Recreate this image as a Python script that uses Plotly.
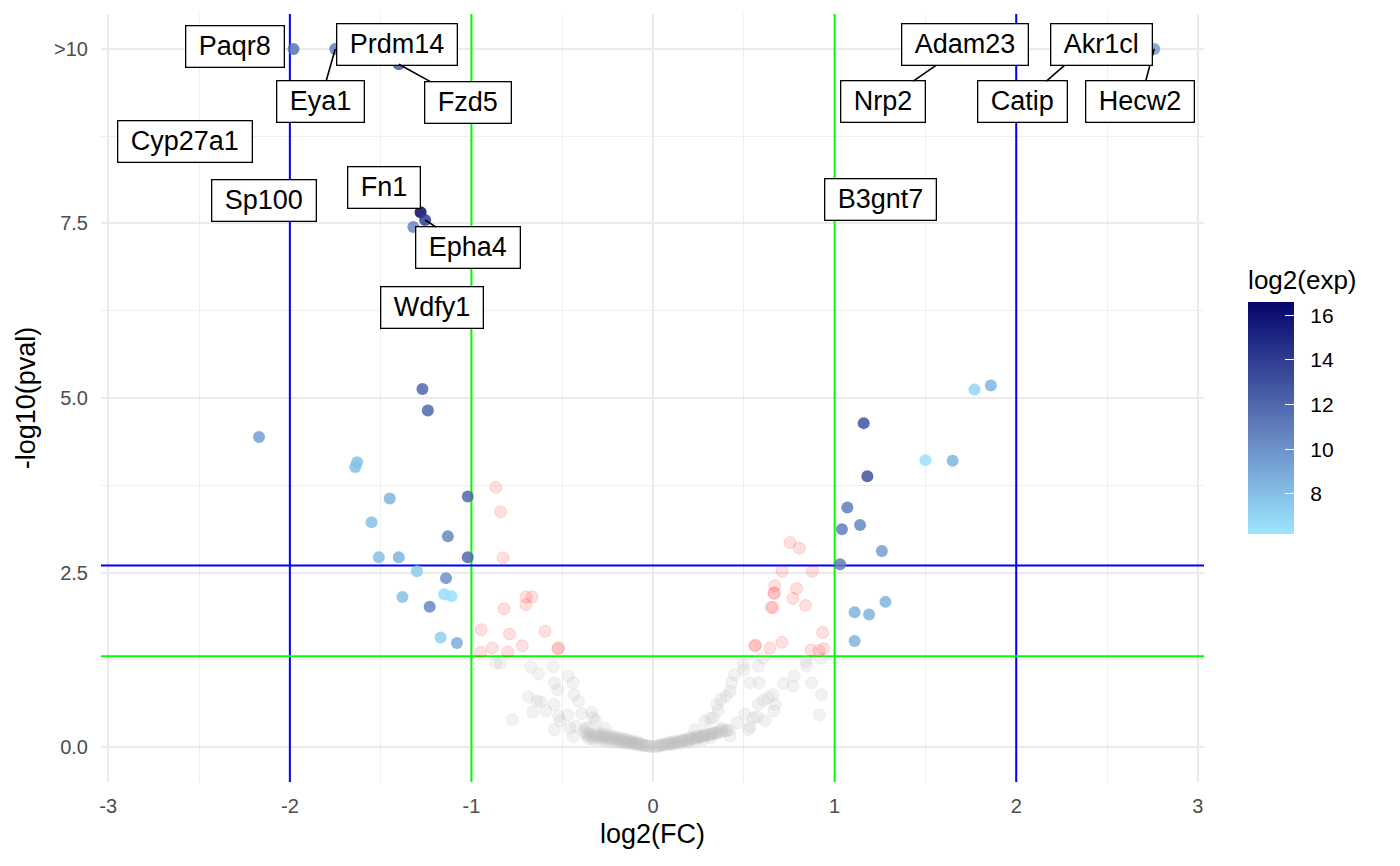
import plotly.graph_objects as go

# ---------------- data ----------------
# significant genes (|log2FC| > 1 and p < 0.05), coloured by log2(exp)
sig_names = ["Paqr8", "Eya1", "Prdm14", "Fzd5", "Cyp27a1", "Sp100", "Fn1", "Epha4", "Wdfy1", "",
             "Adam23", "Nrp2", "Akr1cl", "Catip", "Hecw2", "B3gnt7",
             "", "", "", "", "", "", "", "", "", "", "", "", "", "", "", "", "", "", "", "",
             "", "", "", "", "", "", "", "", "", "", "", "", "", "", ""]
sig_fc = [-1.98, -1.75, -1.41, -1.40, -2.76, -2.14, -1.28, -1.255, -1.22, -1.32,
          1.72, 1.69, 2.47, 2.37, 2.76, 1.25,
          -1.27, -1.24, -2.17, -1.63, -1.64, -1.45, -1.02, -1.55, -1.13, -1.51, -1.40, -1.02,
          -1.30, -1.14, -1.38, -1.15, -1.11, -1.23, -1.17, -1.08,
          1.86, 1.77, 1.16, 1.50, 1.65, 1.18, 1.07, 1.04, 1.14, 1.26, 1.03, 1.28, 1.11, 1.19, 1.11]
sig_p = [10, 10, 10, 9.78, 8.67, 7.83, 7.66, 7.55, 6.30, 7.45,
         10, 10, 10, 10, 10, 7.85,
         5.13, 4.82, 4.44, 4.08, 4.01, 3.56, 3.59, 3.22, 3.02, 2.72, 2.72, 2.72,
         2.52, 2.42, 2.15, 2.19, 2.16, 2.01, 1.57, 1.49,
         5.18, 5.12, 4.64, 4.11, 4.10, 3.88, 3.43, 3.12, 3.18, 2.81, 2.62, 2.08, 1.93, 1.90, 1.52]
sig_exp = [11.5, 11.0, 10.5, 12.5, 9.0, 9.0, 16.5, 14.0, 9.0, 10.5,
           9.0, 9.5, 9.0, 9.0, 9.5, 9.0,
           12.0, 12.0, 9.5, 8.0, 8.0, 8.5, 12.0, 8.0, 10.5, 8.0, 8.5, 12.0,
           7.5, 10.0, 8.0, 6.6, 6.5, 10.5, 7.2, 8.8,
           8.5, 7.0, 13.0, 6.5, 8.5, 13.0, 11.0, 11.0, 10.5, 9.5, 11.0, 8.5, 8.5, 8.5, 8.5]

# p < 0.05 but |log2FC| < 1
red_fc = [-0.866, -0.84, -0.826, -0.70, -0.666, -0.70, -0.82, -0.947, -0.79, -0.595, -0.885,
          -0.80, -0.72, -0.95, -0.525, -0.52,
          0.67, 0.79, 0.665, 0.668, 0.77, 0.84, 0.65, 0.66, 0.934, 0.56, 0.565, 0.644, 0.71,
          0.87, 0.915, 0.94, 0.754, 0.806, 0.71, 0.877]
red_p = [3.72, 3.37, 2.71, 2.15, 2.15, 2.04, 1.98, 1.68, 1.62, 1.66, 1.42,
         1.36, 1.45, 1.36, 1.41, 1.42,
         2.31, 2.27, 2.20, 2.21, 2.13, 2.03, 2.00, 2.00, 1.64, 1.45, 1.46, 1.42, 1.50,
         1.39, 1.38, 1.41, 2.93, 2.85, 2.52, 2.52]

# not significant
grey_fc = [-0.865, -0.84, -0.673, -0.63, -0.55, -0.466, -0.543, -0.44, -0.525, -0.435, -0.686,
           -0.41, -0.64, -0.617, -0.545, -0.663, -0.59, -0.775, -0.52, -0.47, -0.393, -0.338,
           -0.314, -0.512, -0.543, -0.457, -0.424, -0.44, -0.374, -0.264, -0.33, -0.36,
           -0.38, -0.37, -0.36, -0.35, -0.34, -0.33, -0.32, -0.31, -0.30, -0.29, -0.28, -0.27,
           -0.26, -0.25, -0.24, -0.23, -0.22, -0.21, -0.20, -0.19, -0.18, -0.17, -0.16, -0.15,
           -0.14, -0.13, -0.12, -0.11, -0.10, -0.09, -0.08, -0.07, -0.06, -0.05, -0.04, -0.03,
           -0.02, -0.01, -0.355, -0.325, -0.295, -0.265, -0.235, -0.205, -0.175, -0.145,
           -0.115, -0.085, -0.055, -0.30, -0.27, -0.24, -0.21, -0.18, -0.15, -0.12, -0.09,
           0.497, 0.50, 0.58, 0.607, 0.843, 0.846, 0.925, 0.448, 0.433, 0.534, 0.584, 0.718,
           0.777, 0.77, 0.874, 0.424, 0.402, 0.374, 0.35, 0.36, 0.66, 0.635, 0.608, 0.58,
           0.672, 0.666, 0.927, 0.916, 0.506, 0.552, 0.574, 0.617, 0.464, 0.534, 0.525, 0.424,
           0.286, 0.314, 0.332, 0.23, 0.378, 0.405,
           0.01, 0.02, 0.03, 0.04, 0.05, 0.06, 0.07, 0.08, 0.09, 0.10, 0.11, 0.12, 0.13, 0.14,
           0.15, 0.16, 0.17, 0.18, 0.19, 0.20, 0.21, 0.22, 0.23, 0.24, 0.25, 0.26, 0.27, 0.28,
           0.29, 0.30, 0.31, 0.32, 0.33, 0.34, 0.35, 0.36, 0.38, 0.40, 0.42, 0.045, 0.085,
           0.125, 0.165, 0.205, 0.245, 0.285, 0.325, 0.365, 0.105, 0.155, 0.195, 0.235, 0.275,
           0.315]
grey_p = [1.20, 1.20, 1.15, 1.05, 1.15, 1.02, 0.92, 0.92, 0.82, 0.75, 0.72,
          0.66, 0.66, 0.65, 0.61, 0.50, 0.52, 0.39, 0.45, 0.46, 0.48, 0.50,
          0.38, 0.37, 0.25, 0.27, 0.30, 0.15, 0.27, 0.27, 0.42, 0.27,
          0.22, 0.17, 0.20, 0.15, 0.18, 0.14, 0.19, 0.15, 0.17, 0.13, 0.16, 0.14,
          0.12, 0.15, 0.13, 0.11, 0.14, 0.12, 0.10, 0.12, 0.09, 0.11, 0.08, 0.10,
          0.07, 0.09, 0.06, 0.07, 0.05, 0.06, 0.04, 0.05, 0.03, 0.03, 0.02, 0.02,
          0.01, 0.01, 0.12, 0.11, 0.10, 0.09, 0.08, 0.07, 0.06, 0.05,
          0.04, 0.03, 0.02, 0.21, 0.19, 0.17, 0.15, 0.13, 0.12, 0.09, 0.08,
          1.18, 1.11, 1.16, 1.28, 1.23, 1.16, 1.27, 1.04, 0.92, 0.92, 0.92, 0.91,
          1.02, 0.875, 0.92, 0.80, 0.73, 0.68, 0.61, 0.52, 0.75, 0.71, 0.67, 0.61,
          0.61, 0.52, 0.75, 0.46, 0.47, 0.42, 0.43, 0.38, 0.35, 0.29, 0.25, 0.16,
          0.37, 0.41, 0.42, 0.25, 0.27, 0.25,
          0.01, 0.01, 0.02, 0.02, 0.03, 0.03, 0.04, 0.04, 0.05, 0.05, 0.06, 0.06, 0.07, 0.07,
          0.08, 0.09, 0.09, 0.10, 0.10, 0.11, 0.12, 0.12, 0.13, 0.13, 0.14, 0.15, 0.15, 0.16,
          0.17, 0.17, 0.18, 0.18, 0.19, 0.20, 0.20, 0.21, 0.22, 0.23, 0.24, 0.04, 0.07,
          0.09, 0.11, 0.14, 0.16, 0.19, 0.21, 0.24, 0.03, 0.05, 0.07, 0.09, 0.11,
          0.13]

x_ticks = [-3, -2, -1, 0, 1, 2, 3]
x_ticktext = ["-3", "-2", "-1", "0", "1", "2", "3"]
y_ticks = [0, 2.5, 5, 7.5, 10]
y_ticktext = ["0.0", "2.5", "5.0", "7.5", ">10"]
cb_ticks = [8, 10, 12, 14, 16]
fc_cut = [1, 2]          # green, blue
p_cut = [1.3, 2.6]       # green, blue
cut_colors = ["#00FF00", "#0000FF"]

X_RANGE = [-3.04, 3.034]
Y_RANGE = [-0.5, 10.5]

# label placement (pixel offset of label from its point; arrow or not)
label_pos = {
    "Paqr8": (-58, -2, False), "Eya1": (-15, 53, True), "Prdm14": (0, -4, False),
    "Fzd5": (69, 38, True), "Cyp27a1": (33, 0, False), "Sp100": (0, 0, False),
    "Fn1": (-37, -25, False), "Epha4": (43, 28, True), "Wdfy1": (0, 0, False),
    "Nrp2": (-77, 53, True), "Adam23": (0, -4, False), "Catip": (-61, 53, True),
    "Hecw2": (-14, 53, True), "Akr1cl": (0, -4, False), "B3gnt7": (0, 0, False),
}

FONT = "Liberation Sans, Arial, sans-serif"
NB = "\u00a0"

fig = go.Figure()

# threshold lines (as traces so they sit above the grid)
for v, col in zip(fc_cut, cut_colors):
    for s in (-1, 1):
        fig.add_trace(go.Scatter(x=[s * v, s * v], y=Y_RANGE, mode="lines", showlegend=False,
                                 hoverinfo="skip", line=dict(color=col, width=2)))
for h, col in zip(p_cut, cut_colors):
    fig.add_trace(go.Scatter(x=X_RANGE, y=[h, h], mode="lines", showlegend=False,
                             hoverinfo="skip", line=dict(color=col, width=2)))

fig.add_trace(go.Scatter(
    x=grey_fc, y=grey_p, mode="markers", showlegend=False, hoverinfo="skip",
    marker=dict(size=12, color="rgba(190,190,190,0.2)",
                line=dict(width=1, color="rgba(190,190,190,0.2)"))))
fig.add_trace(go.Scatter(
    x=red_fc, y=red_p, mode="markers", showlegend=False, hoverinfo="skip",
    marker=dict(size=12, color="rgba(255,0,0,0.12)",
                line=dict(width=1, color="rgba(255,0,0,0.14)"))))
fig.add_trace(go.Scatter(
    x=sig_fc, y=sig_p, mode="markers", showlegend=False, text=sig_names,
    marker=dict(size=12, color=sig_exp, opacity=0.85, cmin=6.2, cmax=16.6,
                colorscale=[[0, "#9DE6FF"], [0.5, "#5A74B6"], [1, "#04046A"]],
                colorbar=dict(
                    title=dict(text="log2(exp)", side="top",
                               font=dict(family=FONT, size=26, color="black")),
                    thickness=46, len=267, lenmode="pixels",
                    x=1.04, xanchor="left", xpad=0, y=0.323, yanchor="bottom", ypad=0,
                    outlinewidth=0, ticks="inside", ticklen=9, tickcolor="white",
                    tickwidth=1, tickvals=cb_ticks,
                    ticktext=[NB + NB + str(t) for t in cb_ticks],
                    tickfont=dict(family=FONT, size=21, color="black")))))

# labels
for name in label_pos:
    i = sig_names.index(name)
    dx, dy, arrow = label_pos[name]
    common = dict(x=sig_fc[i], y=sig_p[i], text=NB + name + NB,
                  font=dict(family=FONT, size=27, color="black"),
                  bgcolor="white", bordercolor="black", borderwidth=1.3, borderpad=5)
    if arrow:
        fig.add_annotation(**common, showarrow=True, ax=dx, ay=dy, arrowhead=0,
                           arrowwidth=1.6, arrowcolor="black", standoff=0, startstandoff=0)
    else:
        fig.add_annotation(**common, showarrow=False, xshift=dx, yshift=-dy)

fig.update_xaxes(
    range=X_RANGE, tickvals=x_ticks, ticktext=x_ticktext, zeroline=False,
    showgrid=True, gridcolor="#EBEBEB", gridwidth=2,
    minor=dict(tickvals=[-2.5, -1.5, -0.5, 0.5, 1.5, 2.5], showgrid=True,
               gridcolor="#EFEFEF", gridwidth=1),
    tickfont=dict(family=FONT, size=20, color="#4D4D4D"), ticklabelstandoff=10,
    title=dict(text="log2(FC)", font=dict(family=FONT, size=27, color="black"), standoff=8),
    showline=False)
fig.update_yaxes(
    range=Y_RANGE, tickvals=y_ticks, ticktext=y_ticktext, zeroline=False,
    showgrid=True, gridcolor="#EBEBEB", gridwidth=2,
    minor=dict(tickvals=[1.25, 3.75, 6.25, 8.75], showgrid=True,
               gridcolor="#EFEFEF", gridwidth=1),
    tickfont=dict(family=FONT, size=20, color="#4D4D4D"), ticklabelstandoff=12,
    title=dict(text="-log10(pval)", font=dict(family=FONT, size=27, color="black"), standoff=10),
    showline=False)

# the page body has an 8px margin, so the figure sits 8px right/down of the window origin
fig.update_layout(
    width=1400, height=866, autosize=False,
    margin=dict(l=93, r=204, t=6, b=92, autoexpand=False),
    plot_bgcolor="white", paper_bgcolor="white",
    font=dict(family=FONT),
)

fig.write_html("out.html")
